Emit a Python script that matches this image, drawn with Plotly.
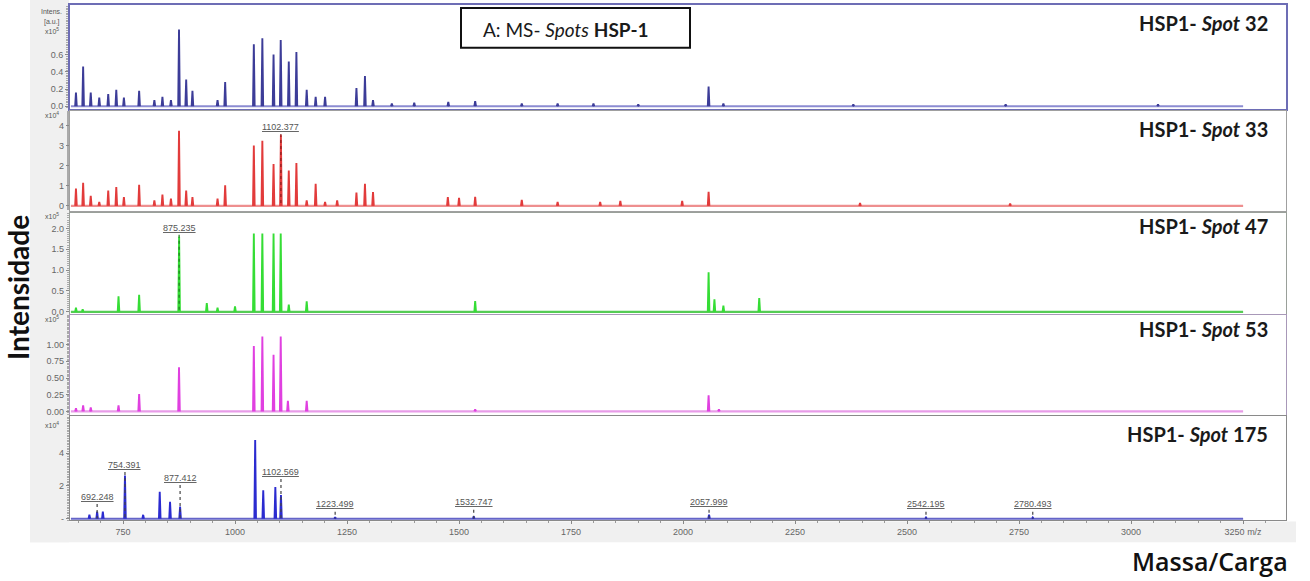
import plotly.graph_objects as go

W, H = 1310, 581

# ---------------- data (m/z, intensity in panel units) ----------------
spot32_mz = [645, 661, 678, 697, 717, 735, 752, 786, 820, 838, 857, 875, 891, 905, 961, 978,
             1042, 1061, 1086, 1102, 1120, 1137, 1160, 1180, 1201, 1271, 1290, 1308, 1350, 1400,
             1476, 1536, 1640, 1720, 1800, 1900, 2057, 2090, 2380, 2720, 3060]
spot32_int = [0.16, 0.46, 0.16, 0.10, 0.14, 0.19, 0.10, 0.18, 0.07, 0.11, 0.07, 0.89, 0.31, 0.18, 0.07, 0.28,
              0.72, 0.79, 0.60, 0.77, 0.52, 0.63, 0.19, 0.11, 0.11, 0.21, 0.35, 0.07, 0.03, 0.04,
              0.05, 0.06, 0.03, 0.03, 0.03, 0.02, 0.23, 0.03, 0.02, 0.02, 0.02]

spot33_mz = [645, 661, 678, 697, 717, 735, 752, 786, 820, 838, 857, 875, 891, 905, 961, 978,
             1042, 1061, 1086, 1102.377, 1120, 1137, 1160, 1180, 1201, 1228, 1271, 1290, 1308,
             1475, 1500, 1536, 1640, 1720, 1815, 1860, 1998, 2057, 2395, 2730]
spot33_int = [0.86, 1.15, 0.50, 0.20, 0.77, 0.94, 0.44, 1.05, 0.28, 0.56, 0.36, 3.74, 0.77, 0.44, 0.36, 1.02,
              3.00, 3.24, 2.09, 3.52, 1.76, 2.14, 0.28, 1.10, 0.20, 0.28, 0.66, 1.10, 0.69,
              0.44, 0.40, 0.45, 0.30, 0.20, 0.20, 0.25, 0.25, 0.70, 0.15, 0.12]

spot47_mz = [645, 660, 740, 786, 875.235, 937, 961, 1000, 1042, 1061, 1086, 1102, 1120, 1160,
             1536, 2057, 2070, 2090, 2170]
spot47_int = [0.10, 0.06, 0.37, 0.41, 1.80, 0.21, 0.10, 0.13, 1.88, 1.88, 1.88, 1.88, 0.17, 0.25,
              0.26, 0.95, 0.30, 0.15, 0.33]

spot53_mz = [645, 661, 678, 740, 786, 875, 1042, 1061, 1086, 1102, 1118, 1160, 1536, 2057, 2080]
spot53_int = [0.05, 0.09, 0.06, 0.09, 0.26, 0.66, 0.98, 1.12, 0.85, 1.12, 0.16, 0.16, 0.03, 0.24, 0.03]

spot175_mz = [675, 692.248, 705, 754.391, 795, 832, 855, 877.412, 1045, 1063, 1090, 1102.569,
              1223.499, 1532.747, 2057.999, 2542.195, 2780.493]
spot175_int = [0.24, 0.44, 0.44, 2.64, 0.24, 1.64, 1.04, 0.74, 4.80, 1.74, 1.94, 1.44,
               0.10, 0.15, 0.25, 0.08, 0.08]

# annotated peaks: (m/z, label height) per panel
spot33_labels = [1102.377]
spot33_label_y = [3.92]
spot47_labels = [875.235]
spot47_label_y = [2.02]
spot175_labels = [692.248, 754.391, 877.412, 1102.569, 1223.499, 1532.747, 2057.999, 2542.195, 2780.493]
spot175_label_y = [1.35, 3.30, 2.50, 2.87, 0.87, 1.00, 1.00, 0.87, 0.87]

spot_names = ["32", "33", "47", "53", "175"]
exponents = [5, 4, 5, 5, 4]

y_tickvals = [[0, 0.2, 0.4, 0.6], [0, 1, 2, 3, 4], [0, 0.5, 1.0, 1.5, 2.0],
              [0, 0.25, 0.5, 0.75, 1.0], [0, 2, 4]]
y_ticktext = [["0.0", "0.2", "0.4", "0.6"], ["0", "1", "2", "3", "4"],
              ["0.0", "0.5", "1.0", "1.5", "2.0"],
              ["0.00", "0.25", "0.50", "0.75", "1.00"], ["-", "2", "4"]]
y_ranges = [[-0.035, 1.176], [-0.23, 4.71], [-0.048, 2.38], [-0.055, 1.446], [-0.10, 6.26]]

x_tickvals = [750, 1000, 1250, 1500, 1750, 2000, 2250, 2500, 2750, 3000, 3250]
x_ticktext = ["750", "1000", "1250", "1500", "1750", "2000", "2250", "2500", "2750", "3000", "3250 m/z"]
x_range = [631.7, 3345.7]
mz_end = 3250

# ---------------- styling ----------------
spike_colors = ["#3c3c98", "#e23b3b", "#35dd35", "#e040e0", "#2b2bd0"]
base_colors = ["#8c8cd2", "#ee8f8f", "#55cc55", "#e89ce8", "#6464c8"]
label_colors = ["#444", "#8a1c1c", "#1f7a1f", "#444", "#444"]
frame_colors = ["#6d6db5", "#a0a0a0", "#9aa09a", "#a898b8", "#8a8a8a"]
frame_widths = [2, 1.2, 1.2, 1.2, 1.2]

panels_px = [(5, 110), (112, 212), (214, 316), (317, 418), (419, 524)]
exp_px = [31, 116, 218, 321, 428]
title_px = [23, 130, 228, 331, 437]
x_dom = [70 / W, 1286 / W]


def ydom(top, bottom):
    return [1 - bottom / H, 1 - top / H]


def py(p):
    return 1 - p / H


def spikes(mz, inten, w=1.8):
    xs, ys = [], []
    for m, h in sorted(zip(mz, inten)):
        xs += [m - w, m, m + w, None]
        ys += [0, h, 0, None]
    return xs, ys


spectra = [(spot32_mz, spot32_int), (spot33_mz, spot33_int), (spot47_mz, spot47_int),
           (spot53_mz, spot53_int), (spot175_mz, spot175_int)]
labels = [([], []), (spot33_labels, spot33_label_y), (spot47_labels, spot47_label_y), ([], []),
          (spot175_labels, spot175_label_y)]

fig = go.Figure()
annotations = []
shapes = []
small = dict(size=7, color="#555", family="Liberation Sans")

for i in range(5):
    ax = "" if i == 0 else str(i + 1)
    xa, ya = "x" + ax, "y" + ax
    mz, inten = spectra[i]
    # baseline
    fig.add_trace(go.Scatter(x=[x_range[0] + 2, mz_end], y=[0, 0], mode="lines",
                             line=dict(color=base_colors[i], width=2.2),
                             xaxis=xa, yaxis=ya, showlegend=False, hoverinfo="skip"))
    sx, sy = spikes(mz, inten)
    fig.add_trace(go.Scatter(x=sx, y=sy, mode="lines",
                             line=dict(color=spike_colors[i], width=1.9),
                             xaxis=xa, yaxis=ya, showlegend=False))
    # labelled peaks
    lm, ly = labels[i]
    if lm:
        dx, dy = [], []
        for m, yv in zip(lm, ly):
            dx += [m, m, None]
            dy += [yv - 0.07 * (y_ranges[i][1] - y_ranges[i][0]), 0, None]
        fig.add_trace(go.Scatter(x=dx, y=dy, mode="lines",
                                 line=dict(color=label_colors[i], width=1.2, dash="dot"),
                                 xaxis=xa, yaxis=ya, showlegend=False, hoverinfo="skip"))
        for m, yv in zip(lm, ly):
            annotations.append(dict(x=m, y=yv, xref=xa, yref=ya, text="<u>%.3f</u>" % m,
                                    xanchor="center", yanchor="middle",
                                    showarrow=False, font=dict(size=9, color="#555",
                                                               family="Liberation Sans")))

    top, bottom = panels_px[i]
    last = i == 4
    fig.layout["xaxis" + ax] = dict(
        domain=x_dom, range=x_range, anchor=ya, matches=None if i == 0 else "x",
        showline=True, mirror=True, linecolor=frame_colors[i], linewidth=frame_widths[i],
        showgrid=False, zeroline=False,
        tickvals=x_tickvals if last else [], ticktext=x_ticktext if last else [],
        ticks="outside" if last else "", ticklen=3, tickcolor="#888",
        showticklabels=last, tickfont=dict(size=9, color="#666", family="Liberation Sans"),
        minor=dict(dtick=50, tick0=0, ticks="outside" if last else "", ticklen=2, tickcolor="#999"),
    )
    fig.layout["yaxis" + ax] = dict(
        domain=ydom(top, bottom), range=y_ranges[i], anchor=xa,
        showline=True, mirror=True, linecolor=frame_colors[i], linewidth=frame_widths[i],
        showgrid=False, zeroline=False,
        tickvals=y_tickvals[i], ticktext=y_ticktext[i],
        ticks="outside", ticklen=3, tickcolor="#888",
        tickfont=dict(size=9, color="#666", family="Liberation Sans"),
        minor=dict(nticks=20, ticks="outside", ticklen=2, tickcolor="#aaa"),
    )
    # exponent label
    annotations.append(dict(x=52 / W, y=py(exp_px[i]), xref="paper", yref="paper",
                            xanchor="center", yanchor="middle",
                            text="x10<sup>%d</sup>" % exponents[i], showarrow=False, font=small))
    # panel title
    annotations.append(dict(x=1270 / W, y=py(title_px[i]), xref="paper", yref="paper",
                            xanchor="right", yanchor="middle",
                            text="<b>HSP1- <i>Spot</i> %s</b>" % spot_names[i], showarrow=False,
                            font=dict(size=20, color="#1a1a1a", family="Lato")))

# units for first panel
annotations.append(dict(x=51 / W, y=py(12), xref="paper", yref="paper", text="Intens.",
                        xanchor="center", yanchor="middle", showarrow=False, font=small))
annotations.append(dict(x=52 / W, y=py(22), xref="paper", yref="paper", text="[a.u.]",
                        xanchor="center", yanchor="middle", showarrow=False, font=small))

# box title
shapes.append(dict(type="rect", xref="paper", yref="paper", x0=461 / W, x1=690 / W,
                   y0=py(48), y1=py(8), line=dict(color="#111", width=2),
                   fillcolor="white", layer="above"))
annotations.append(dict(x=566 / W, y=py(30), xref="paper", yref="paper",
                        xanchor="center", yanchor="middle",
                        text="A: MS- <i>Spots</i> <b>HSP-1</b>", showarrow=False,
                        font=dict(size=19, color="#1a1a1a", family="Lato")))

# light gray strips around axes
shapes.append(dict(type="rect", xref="paper", yref="paper", x0=30 / W, x1=69 / W, y0=py(546), y1=1,
                   fillcolor="#f0f0f0", line=dict(width=0), layer="below"))
shapes.append(dict(type="rect", xref="paper", yref="paper", x0=30 / W, x1=1296 / W, y0=py(546),
                   y1=py(525), fillcolor="#f0f0f0", line=dict(width=0), layer="below"))

# axis titles
annotations.append(dict(x=18 / W, y=py(290), xref="paper", yref="paper", text="<b>Intensidade</b>",
                        xanchor="center", yanchor="middle", textangle=-90, showarrow=False,
                        font=dict(size=28, color="#111", family="Lato")))
annotations.append(dict(x=1290 / W, y=py(565), xref="paper", yref="paper", text="Massa/Carga",
                        xanchor="right", yanchor="middle", showarrow=False,
                        font=dict(size=25, color="#111", family="Open Sans", weight=600)))

fig.update_layout(width=W, height=H, margin=dict(l=0, r=0, t=0, b=0),
                  paper_bgcolor="white", plot_bgcolor="white",
                  annotations=annotations, shapes=shapes, showlegend=False)

fig.write_html("out.html")
